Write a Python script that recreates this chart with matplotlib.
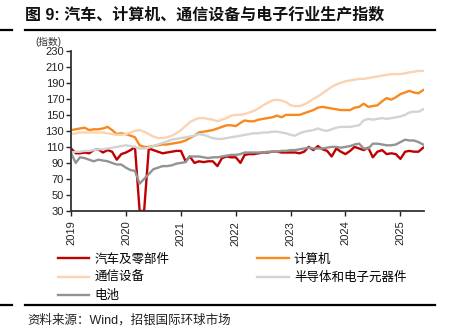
import numpy as np
import pandas as pd
import matplotlib
matplotlib.use('Agg')
import matplotlib.pyplot as plt
import matplotlib.dates as mdates
from matplotlib.lines import Line2D

plt.rcParams['font.family'] = ['Liberation Sans', 'Noto Sans CJK SC', 'DejaVu Sans']
plt.rcParams['axes.unicode_minus'] = False

# 月度生产指数，2019-01 至 2025-06
months = pd.date_range('2019-01-01', periods=78, freq='MS')

auto = [108, 102, 102, 103, 102, 106, 107, 103, 106, 104, 94, 101,
        103, 106, 110, 30, 30, 108, 106, 104, 102, 103, 104, 105,
        105, 92, 98, 90, 92, 91, 92, 92, 86, 96, 98, 97,
        97, 90, 100, 101, 101, 102, 103, 103, 104, 104, 103, 103,
        103, 103, 102, 104, 110, 106, 111, 107, 105, 98, 108, 104,
        101, 105, 110, 108, 106, 109, 97, 104, 106, 101, 102, 101,
        95, 104, 105, 104, 104, 109]
computer = [131, 132, 133, 134, 131, 132, 132, 133, 135, 131, 126, 127,
            126, 124, 122, 112, 110, 110, 111, 112, 113, 113, 114, 115,
            116, 118, 121, 124, 128, 129, 130, 131, 133, 135, 137, 137,
            136, 140, 143, 142, 142, 144, 145, 146, 147, 149, 147, 150,
            150, 150, 150, 152, 154, 156, 159, 160, 159, 158, 157, 156,
            156, 156, 159, 160, 164, 160, 161, 162, 167, 171, 169, 172,
            176, 178, 180, 178, 177, 181]
telecom = [126, 127, 128, 128, 128, 128, 128, 128, 127, 126, 125, 125,
           126, 128, 130, 131, 129, 126, 123, 121, 121, 122, 124, 127,
           131, 136, 141, 144, 146, 146, 145, 144, 142, 144, 146, 149,
           150, 150, 151, 153, 155, 158, 162, 165, 168, 169, 168, 166,
           162, 161, 161, 163, 166, 170, 173, 177, 181, 185, 188, 190,
           192, 193, 194, 195, 195, 196, 197, 198, 199, 200, 201, 201,
           201, 202, 203, 204, 205, 205]
semis = [103, 104, 104, 105, 105, 106, 107, 107, 108, 109, 110, 111,
         112, 111, 110, 108, 108, 109, 111, 113, 115, 117, 119, 120,
         121, 122, 123, 124, 126, 125, 123, 121, 120, 120, 121, 122,
         123, 124, 125, 126, 127, 127, 128, 128, 129, 129, 128, 127,
         125, 124, 127, 129, 130, 131, 133, 131, 130, 132, 134, 135,
         135, 135, 136, 137, 143, 145, 144, 145, 146, 145, 146, 147,
         148, 150, 153, 154, 154, 157]
battery = [102, 90, 97, 96, 94, 92, 94, 93, 92, 90, 88, 88,
           84, 81, 80, 64, 70, 76, 82, 84, 86, 86, 87, 89,
           90, 91, 98, 98, 98, 97, 96, 97, 97, 98, 99, 100,
           100, 101, 103, 103, 103, 103, 103, 104, 104, 104, 105, 105,
           106, 106, 107, 108, 109, 108, 108, 108, 109, 110, 110, 109,
           110, 111, 113, 114, 108, 108, 114, 114, 113, 112, 112, 113,
           116, 119, 118, 118, 116, 113]

labels = ['汽车及零部件', '计算机', '通信设备', '半导体和电子元器件', '电池']
colors = ['#C00000', '#F7891F', '#FCD2B0', '#D3D3D3', '#939393']
series = [auto, computer, telecom, semis, battery]

fig = plt.figure(figsize=(4.5, 3.26), dpi=100)
ax = fig.add_axes([0.158, 0.353, 0.784, 0.491])

lines = []
for vals, c, lab in zip(series, colors, labels):
    ln, = ax.plot(months, vals, color=c, lw=1.7, label=lab, solid_joinstyle='round')
    lines.append(ln)

ax.set_ylim(30, 230)
ax.set_yticks(np.arange(30, 231, 20))
ax.set_xlim(months[0], months[-1] + pd.Timedelta(days=5))
ax.set_xticks(pd.date_range('2019-01-01', '2025-01-01', freq='YS'))
ax.xaxis.set_major_formatter(mdates.DateFormatter('%Y'))
plt.setp(ax.get_xticklabels(), rotation=90)

for s in ['top', 'right']:
    ax.spines[s].set_visible(False)
for s in ['left', 'bottom']:
    ax.spines[s].set_color('#333333')
    ax.spines[s].set_linewidth(1.3)
ax.tick_params(axis='both', labelsize=8, colors='#222222', length=3.5, width=1, pad=1.5)
ax.tick_params(axis='x', pad=3.5)

# 纵轴单位
fig.text(0.108, 0.871, '(指数)', fontsize=7, ha='center', va='center', color='#333333')

# 标题与上下分隔线
fig.text(0.056, 0.953, '图 9: 汽车、计算机、通信设备与电子行业生产指数',
         fontsize=11.5, fontweight='bold', ha='left', va='center', color='#111111')
for yy in [0.909, 0.063]:
    fig.add_artist(Line2D([0.056, 0.967], [yy, yy], color='black', lw=1.6))
    fig.add_artist(Line2D([0.0, 0.027], [yy, yy], color='black', lw=1.6))

fig.text(0.062, 0.018, '资料来源：Wind，招银国际环球市场', fontsize=9,
         ha='left', va='center', color='#222222')

# 图例按行排列：两列，先左列三项再右列两项
order = [0, 2, 4, 1, 3]
fig.legend([lines[i] for i in order], [labels[i] for i in order], ncol=2,
           loc='upper left', bbox_to_anchor=(0.128, 0.222),
           frameon=False, fontsize=9, handlelength=2.55, handletextpad=0.4,
           columnspacing=7.0, labelspacing=0.5, borderpad=0, borderaxespad=0)

fig.savefig('out.png', dpi=100)
